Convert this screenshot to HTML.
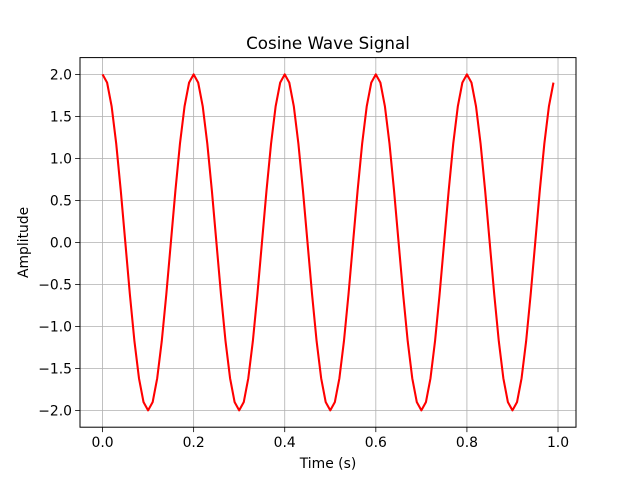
<!DOCTYPE html>
<html><head><meta charset="utf-8"><style>
body{margin:0;background:#fff}
svg{display:block}
text{font-family:"DejaVu Sans","Liberation Sans",sans-serif;fill:#000}
</style></head><body>
<svg id="chart" width="640" height="480">
<rect width="640" height="480" fill="#fff"/>
<g id="grid"></g>
<path id="line" fill="none" stroke="#ff0000" stroke-width="2.08" stroke-linejoin="round"/>
<rect x="80" y="57.6" width="496" height="369.6" fill="none" stroke="#000" stroke-width="1"/>
<g id="ticks"></g>
<text x="328" y="49" text-anchor="middle" font-size="16.7">Cosine Wave Signal</text>
<text x="328" y="468" text-anchor="middle" font-size="13.9">Time (s)</text>
<text transform="translate(28,242.4) rotate(-90)" text-anchor="middle" font-size="13.9">Amplitude</text>
</svg>
<script>
const period = [2,1.902,1.618,1.176,0.618,0,-0.618,-1.176,-1.618,-1.902,-2,-1.902,-1.618,-1.176,-0.618,0,0.618,1.176,1.618,1.902];
const amplitudes = [
2,1.902,1.618,1.176,0.618,0,-0.618,-1.176,-1.618,-1.902,-2,-1.902,-1.618,-1.176,-0.618,0,0.618,1.176,1.618,1.902,
2,1.902,1.618,1.176,0.618,0,-0.618,-1.176,-1.618,-1.902,-2,-1.902,-1.618,-1.176,-0.618,0,0.618,1.176,1.618,1.902,
2,1.902,1.618,1.176,0.618,0,-0.618,-1.176,-1.618,-1.902,-2,-1.902,-1.618,-1.176,-0.618,0,0.618,1.176,1.618,1.902,
2,1.902,1.618,1.176,0.618,0,-0.618,-1.176,-1.618,-1.902,-2,-1.902,-1.618,-1.176,-0.618,0,0.618,1.176,1.618,1.902,
2,1.902,1.618,1.176,0.618,0,-0.618,-1.176,-1.618,-1.902,-2,-1.902,-1.618,-1.176,-0.618,0,0.618,1.176,1.618,1.902];
const times = amplitudes.map((_, i) => i / 100);
const xTicks = [0, 0.2, 0.4, 0.6, 0.8, 1.0];
const xTickLabels = ["0.0","0.2","0.4","0.6","0.8","1.0"];
const yTicks = [-2, -1.5, -1, -0.5, 0, 0.5, 1, 1.5, 2];
const yTickLabels = ["\u22122.0","\u22121.5","\u22121.0","\u22120.5","0.0","0.5","1.0","1.5","2.0"];

const L=80,R=576,T=57.6,B=427.2;
const tMin=Math.min(...times),tMax=Math.max(...times),tPad=(tMax-tMin)*0.05;
const aMin=Math.min(...amplitudes),aMax=Math.max(...amplitudes),aPad=(aMax-aMin)*0.05;
const xs=v=>L+(v-(tMin-tPad))/((tMax+tPad)-(tMin-tPad))*(R-L);
const ys=v=>B-(v-(aMin-aPad))/((aMax+aPad)-(aMin-aPad))*(B-T);
const NS="http://www.w3.org/2000/svg";
const grid=document.getElementById('grid'),ticks=document.getElementById('ticks');
function mk(tag,attrs,parent){const e=document.createElementNS(NS,tag);for(const k in attrs)e.setAttribute(k,attrs[k]);parent.appendChild(e);return e;}
xTicks.forEach((v,i)=>{
  const x=xs(v);
  const g=mk('line',{x1:x,x2:x,y1:T,y2:B,stroke:'#b0b0b0','stroke-width':0.8},grid);
  
  
  const t=mk('line',{x1:x,x2:x,y1:B,y2:B+4.9,stroke:'#000','stroke-width':0.8},ticks);
  
  
  const l=mk('text',{x:x,y:B+20,'text-anchor':'middle','font-size':13.9},ticks);
  l.textContent=xTickLabels[i];
  
  
});
yTicks.forEach((v,i)=>{
  const y=ys(v);
  const g=mk('line',{x1:L,x2:R,y1:y,y2:y,stroke:'#b0b0b0','stroke-width':0.8},grid);
  
  
  const t=mk('line',{x1:L-4.9,x2:L,y1:y,y2:y,stroke:'#000','stroke-width':0.8},ticks);
  
  
  const l=mk('text',{x:L-8,y:y+5,'text-anchor':'end','font-size':13.9},ticks);
  l.textContent=yTickLabels[i];
  
  
});
document.getElementById('line').setAttribute('d',amplitudes.map((a,i)=>(i?'L':'M')+xs(times[i]).toFixed(2)+','+ys(a).toFixed(2)).join(''));
</script>
</body></html>
